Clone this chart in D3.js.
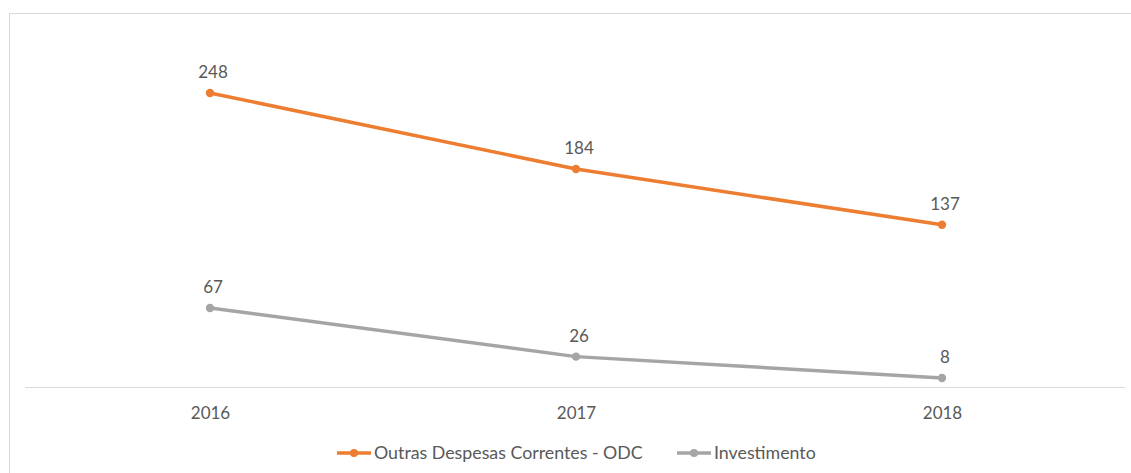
<!DOCTYPE html>
<html><head><meta charset="utf-8">
<script src="https://cdn.jsdelivr.net/npm/d3@7"></script>
<style>body{margin:0;background:#fff}svg{display:block}</style>
</head><body>
<svg id="c" width="1131" height="473"></svg>
<script>
const categories = ["2016", "2017", "2018"];
const seriesNames = ["Outras Despesas Correntes - ODC", "Investimento"];
const odcValues = [248, 184, 137];
const investValues = [67, 26, 8];
const colors = ["#ED7D31", "#A5A5A5"];

const svg = d3.select("#c");
const font = "Lato, 'Open Sans', sans-serif";
const txt = "#595959";

svg.append("rect").attr("x", 9.5).attr("y", 13.5).attr("width", 1140).attr("height", 480)
  .attr("fill", "#fff").attr("stroke", "#d9d9d9").attr("stroke-width", 1);

const x = d3.scalePoint().domain(categories).range([210, 942]);
const y = d3.scaleLinear().domain([0, 248]).range([387.5, 93]);

const xAxis = d3.axisBottom(x).tickSize(0).tickPadding(0);
const ax = svg.append("g").attr("transform", "translate(0,387.5)").call(xAxis);
ax.select(".domain").remove();
ax.append("line").attr("x1", 25).attr("x2", 1125).attr("stroke", "#d9d9d9").attr("stroke-width", 1);
ax.selectAll(".tick text").attr("dy", null).attr("y", 31).attr("fill", txt)
  .style("font-family", font).style("font-size", "17px");

const series = [odcValues, investValues];
const line = d3.line().x((d, i) => x(categories[i])).y(d => y(d));
series.forEach((vals, s) => {
  const g = svg.append("g");
  g.append("path").datum(vals).attr("d", line).attr("fill", "none")
    .attr("stroke", colors[s]).attr("stroke-width", 3.5).attr("stroke-linecap", "round");
  g.selectAll("circle").data(vals).join("circle")
    .attr("cx", (d, i) => x(categories[i])).attr("cy", d => y(d)).attr("r", 4.2).attr("fill", colors[s]);
  g.selectAll("text").data(vals).join("text")
    .attr("x", (d, i) => x(categories[i]) + 3).attr("y", d => y(d) - 15)
    .attr("text-anchor", "middle").attr("fill", txt)
    .style("font-family", font).style("font-size", "17px").text(d => d);
});

const legX = [337, 677];
seriesNames.forEach((n, s) => {
  const g = svg.append("g").attr("transform", `translate(${legX[s]},453)`);
  g.append("line").attr("x1", 0).attr("x2", 34).attr("stroke", colors[s]).attr("stroke-width", 3.5);
  g.append("circle").attr("cx", 17).attr("r", 4).attr("fill", colors[s]);
  g.append("text").attr("x", 37).attr("y", 6).attr("fill", txt)
    .style("font-family", font).style("font-size", "17.8px").text(n);
});
</script>
</body></html>
